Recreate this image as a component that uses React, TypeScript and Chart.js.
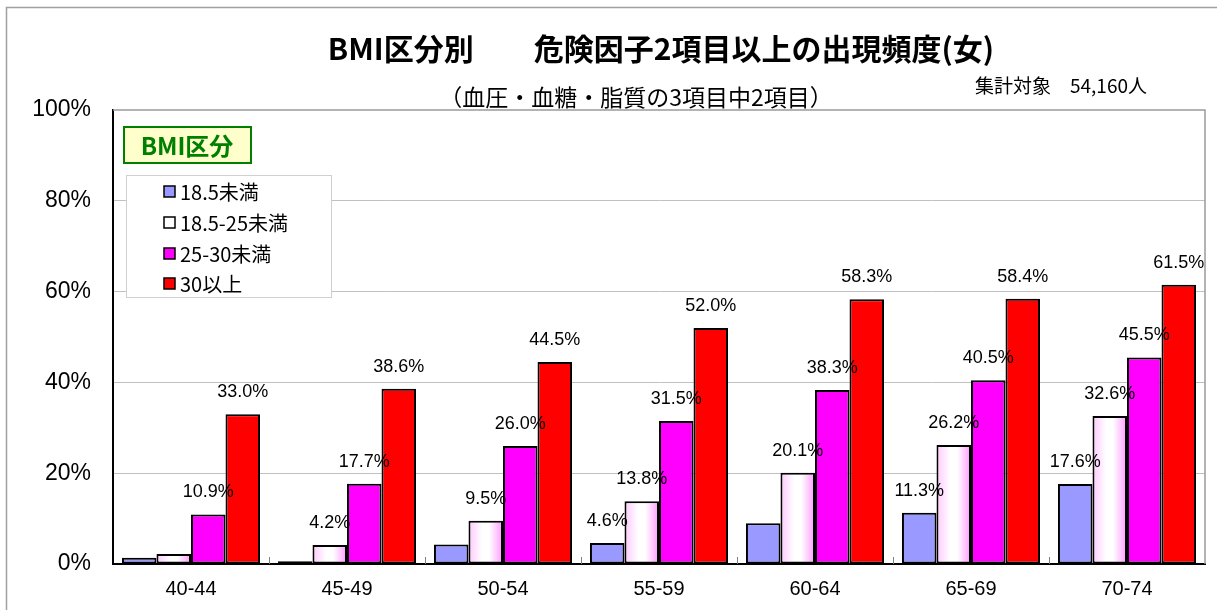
import React, { useEffect, useRef } from "react";
import { Chart, registerables } from "chart.js";

Chart.register(...registerables);

const categories = ["40-44", "45-49", "50-54", "55-59", "60-64", "65-69", "70-74"];
const seriesNames = ["18.5未満", "18.5-25未満", "25-30未満", "30以上"];
const under185 = [1.4, 0.6, 4.3, 4.6, 9.0, 11.3, 17.6];
const normal = [2.2, 4.2, 9.5, 13.8, 20.1, 26.2, 32.6];
const over25 = [10.9, 17.7, 26.0, 31.5, 38.3, 40.5, 45.5];
const over30 = [33.0, 38.6, 44.5, 52.0, 58.3, 58.4, 61.5];
const under185Labels = [null, null, null, "4.6%", null, "11.3%", "17.6%"];
const normalLabels = [null, "4.2%", "9.5%", "13.8%", "20.1%", "26.2%", "32.6%"];
const over25Labels = ["10.9%", "17.7%", "26.0%", "31.5%", "38.3%", "40.5%", "45.5%"];
const over30Labels = ["33.0%", "38.6%", "44.5%", "52.0%", "58.3%", "58.4%", "61.5%"];
const yTicks = [0, 20, 40, 60, 80, 100];

const titleText = "BMI区分別　　危険因子2項目以上の出現頻度(女)";
const subtitleText = "（血圧・血糖・脂質の3項目中2項目）";
const countText = "集計対象　54,160人";
const legendTitle = "BMI区分";

const FONT = "'Liberation Sans', 'Noto Sans CJK JP', sans-serif";
const JFONT = "'Noto Sans CJK JP', 'Liberation Sans', sans-serif";
const CAT_PCT = 0.885;

const colors = ["#9999ff", "#ffffff", "#ff00ff", "#ff0000"];

export default function App() {
  const ref = useRef<HTMLCanvasElement | null>(null);

  useEffect(() => {
    document.body.style.margin = "0";
    const canvas = ref.current;
    if (!canvas) return;

    const gradientBg = (c: any) => {
      const chart = c.chart;
      if (c.dataIndex === undefined || !chart.chartArea || !chart.scales || !chart.scales.x) return "#ffffff";
      const xs = chart.scales.x;
      const cw = xs.width / categories.length;
      const center = xs.getPixelForValue(c.dataIndex);
      const gw = cw * CAT_PCT;
      const bw = gw / 4;
      const left = center - gw / 2 + bw;
      const g = chart.ctx.createLinearGradient(left, 0, left + bw, 0);
      g.addColorStop(0, "#ffc8ff");
      g.addColorStop(0.4, "#ffffff");
      g.addColorStop(0.6, "#ffffff");
      g.addColorStop(1, "#ff99ff");
      return g;
    };

    const labelSets = [under185Labels, normalLabels, over25Labels, over30Labels];

    const decor = {
      id: "decor",
      beforeDraw(chart: any) {
        const ctx = chart.ctx;
        ctx.save();
        ctx.fillStyle = "#ffffff";
        ctx.fillRect(0, 0, chart.width, chart.height);
        ctx.strokeStyle = "#a0a0a0";
        ctx.lineWidth = 1.5;
        ctx.beginPath();
        ctx.moveTo(6.5, chart.height + 5);
        ctx.lineTo(6.5, 7.5);
        ctx.lineTo(chart.width + 5, 7.5);
        ctx.stroke();
        ctx.restore();
      },
      beforeDatasetsDraw(chart: any) {
        const ctx = chart.ctx;
        const a = chart.chartArea;
        ctx.save();
        ctx.strokeStyle = "#9a9a9a";
        ctx.lineWidth = 1.5;
        ctx.beginPath();
        ctx.moveTo(a.left, a.top);
        ctx.lineTo(a.right, a.top);
        ctx.lineTo(a.right, a.bottom);
        ctx.stroke();
        const xs = chart.scales.x;
        const cw = xs.width / categories.length;
        ctx.strokeStyle = "#808080";
        ctx.lineWidth = 1;
        for (let i = 1; i < categories.length; i++) {
          const x = Math.round(a.left + cw * i) + 0.5;
          ctx.beginPath();
          ctx.moveTo(x, a.bottom);
          ctx.lineTo(x, a.bottom - 7);
          ctx.stroke();
        }
        ctx.restore();
      },
      afterDraw(chart: any) {
        const ctx = chart.ctx;
        ctx.save();
        ctx.fillStyle = "#000000";
        ctx.font = `18px ${FONT}`;
        ctx.textAlign = "center";
        ctx.textBaseline = "middle";
        labelSets.forEach((labels, di) => {
          const meta = chart.getDatasetMeta(di);
          meta.data.forEach((el: any, i: number) => {
            const t = labels[i];
            if (!t) return;
            ctx.fillText(t, el.x, el.y - 22);
          });
        });

        ctx.textAlign = "center";
        ctx.font = `bold 30px ${JFONT}`;
        ctx.fillText(titleText, 661, 49);
        ctx.font = `23px ${JFONT}`;
        ctx.fillText(subtitleText, 636, 97);
        ctx.font = `19px ${JFONT}`;
        ctx.textAlign = "left";
        ctx.fillText(countText, 975, 86);

        ctx.fillStyle = "#ffffcc";
        ctx.fillRect(123, 126, 129, 38);
        ctx.strokeStyle = "#008000";
        ctx.lineWidth = 2;
        ctx.strokeRect(124, 127, 127, 36);
        ctx.fillStyle = "#008000";
        ctx.font = `bold 24px ${JFONT}`;
        ctx.textAlign = "center";
        ctx.fillText(legendTitle, 187, 146);

        ctx.fillStyle = "#ffffff";
        ctx.fillRect(126, 175, 206, 123);
        ctx.strokeStyle = "#d0d0d0";
        ctx.lineWidth = 1;
        ctx.strokeRect(126.5, 175.5, 205, 122);
        const rows = [191, 222, 253, 283];
        ctx.font = `20px ${JFONT}`;
        ctx.textAlign = "left";
        seriesNames.forEach((name, i) => {
          const y = rows[i];
          ctx.fillStyle = colors[i];
          ctx.fillRect(164, y - 5, 11, 11);
          ctx.strokeStyle = "#000000";
          ctx.lineWidth = 1.5;
          ctx.strokeRect(164, y - 5, 11, 11);
          ctx.fillStyle = "#000000";
          ctx.fillText(name, 180, y + 1);
        });
        ctx.restore();
      },
    };

    const mkDs = (label: string, data: number[], bg: any) => ({
      label,
      data,
      backgroundColor: bg,
      borderColor: "#000000",
      borderWidth: 2,
      borderSkipped: false,
      categoryPercentage: CAT_PCT,
      barPercentage: 1,
    });

    const chart = new Chart(canvas, {
      type: "bar",
      data: {
        labels: categories,
        datasets: [
          mkDs(seriesNames[0], under185, colors[0]),
          mkDs(seriesNames[1], normal, gradientBg),
          mkDs(seriesNames[2], over25, colors[2]),
          mkDs(seriesNames[3], over30, colors[3]),
        ],
      },
      options: {
        animation: false,
        responsive: false,
        maintainAspectRatio: false,
        layout: { padding: { left: 8, right: 12, top: 110, bottom: 0 } },
        plugins: {
          legend: { display: false },
          title: { display: false },
          tooltip: { enabled: false },
        },
        scales: {
          x: {
            grid: { display: false, drawTicks: false },
            border: { color: "#000000", width: 2 },
            ticks: {
              color: "#000000",
              font: { family: FONT, size: 20 },
              padding: 13,
            },
            afterFit(scale: any) {
              scale.height = 46;
            },
          },
          y: {
            min: 0,
            max: 100,
            afterBuildTicks(scale: any) {
              scale.ticks = yTicks.map((v) => ({ value: v }));
            },
            grid: {
              color: (c: any) => (c.tick && (c.tick.value === 0 || c.tick.value === 100) ? "rgba(0,0,0,0)" : "#c0c0c0"),
              lineWidth: 1,
              drawTicks: false,
            },
            border: { color: "#000000", width: 2 },
            ticks: {
              color: "#000000",
              font: { family: FONT, size: 23 },
              padding: 22,
              callback: (v: any) => `${v}%`,
            },
            afterFit(scale: any) {
              scale.width = 105;
            },
          },
        },
      },
      plugins: [decor],
    });

    return () => chart.destroy();
  }, []);

  return (
    <div style={{ width: 1217, height: 610 }}>
      <canvas ref={ref} width={1217} height={610} style={{ display: "block" }} />
    </div>
  );
}
